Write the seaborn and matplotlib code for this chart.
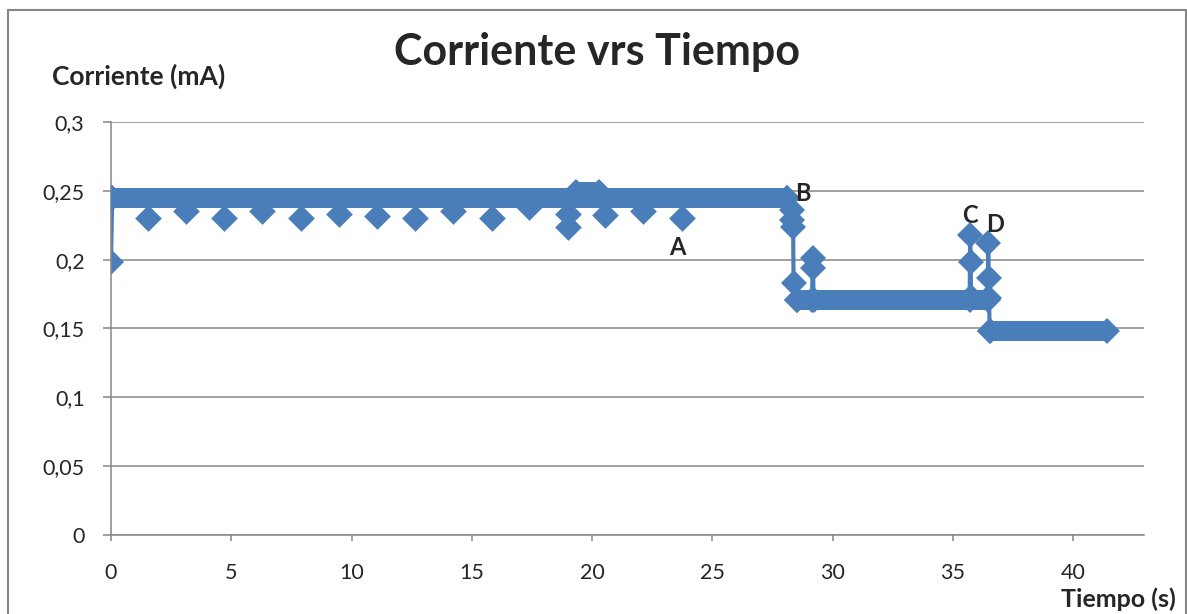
import pandas as pd
import matplotlib
matplotlib.use("Agg")
import matplotlib.pyplot as plt
import seaborn as sns
from matplotlib.patches import Rectangle

# tramos continuos (muchas lecturas seguidas a la misma corriente)
tramo_ini = [0.05, 19.35, 28.52, 36.53]
tramo_fin = [28.1, 20.3, 36.45, 41.4]
tramo_nivel = [0.2445, 0.249, 0.171, 0.1485]

# lecturas aisladas por debajo del primer tramo
t_caidas = [1.54, 3.12, 4.70, 6.28, 7.90, 9.48, 11.06, 12.64, 14.22, 15.84,
            17.38, 19.0, 19.0, 20.54, 22.12, 23.74]
i_caidas = [0.230, 0.235, 0.230, 0.235, 0.230, 0.233, 0.232, 0.230, 0.235, 0.230,
            0.238, 0.233, 0.224, 0.2325, 0.235, 0.230]

# transiciones (inicio, B, pico, C, D)
t_inicio = [0.0, 0.05]
i_inicio = [0.198, 0.2445]
t_b = [28.1, 28.3, 28.33, 28.36, 28.38, 28.52]
i_b = [0.2445, 0.236, 0.229, 0.224, 0.183, 0.171]
t_pico = [29.15, 29.17, 29.19, 29.21]
i_pico = [0.171, 0.201, 0.194, 0.171]
t_c = [35.7, 35.72, 35.74, 35.76]
i_c = [0.171, 0.218, 0.198, 0.173]
t_d = [36.45, 36.47, 36.49, 36.51, 36.53]
i_d = [0.172, 0.212, 0.187, 0.172, 0.1485]

etiquetas = ["A", "B", "C", "D"]
etq_t = [23.53, 28.77, 35.72, 36.76]
etq_i = [0.2085, 0.2484, 0.2324, 0.2252]

azul = "#4a7ebb"
gris = "#868686"

sns.set_style("white")
plt.rcParams["font.family"] = ["Lato", "DejaVu Sans"]

fig = plt.figure(figsize=(11.87, 6.14), dpi=100)
ax = fig.add_axes([0.0935, 0.1287, 0.8703, 0.6726])

ms = 13.6  # diamante de ~20 px

# transiciones con marcadores
tramos = [(t_inicio, i_inicio), (t_b, i_b), (t_pico, i_pico), (t_c, i_c), (t_d, i_d)]
for tt, ii in tramos:
    df = pd.DataFrame({"t": tt, "i": ii})
    sns.lineplot(data=df, x="t", y="i", sort=False, estimator=None, ax=ax,
                 color=azul, lw=3, marker="D", markersize=ms, markeredgewidth=0)

# tramos continuos
for s, e, v in zip(tramo_ini, tramo_fin, tramo_nivel):
    ax.plot([s, e], [v, v], color=azul, lw=14.4, solid_capstyle="butt",
            marker="D", markersize=ms, markeredgewidth=0, zorder=3)

# lecturas aisladas
sns.scatterplot(x=t_caidas, y=i_caidas, ax=ax, color=azul, marker="D", s=ms ** 2,
                linewidth=0, zorder=3)

for txt, x, y in zip(etiquetas, etq_t, etq_i):
    ax.text(x, y, txt, fontsize=17, fontweight="bold", ha="center", va="center")

ax.set_xlim(0, 42.95)
ax.set_ylim(0, 0.3)
ax.set_xticks(range(0, 41, 5))
ax.set_yticks([0, 0.05, 0.1, 0.15, 0.2, 0.25, 0.3])
ax.set_yticklabels(["0", "0,05", "0,1", "0,15", "0,2", "0,25", "0,3"])
ax.set_xlabel("")
ax.set_ylabel("")
ax.grid(axis="y", color=gris, lw=1.1)
ax.set_axisbelow(True)
for lado in ["top", "right"]:
    ax.spines[lado].set_visible(False)
for lado in ["left", "bottom"]:
    ax.spines[lado].set_color(gris)
    ax.spines[lado].set_linewidth(1.1)
ax.tick_params(axis="y", direction="out", length=6, width=1.1, color=gris,
               labelsize=15.5, pad=13, left=True)
ax.tick_params(axis="x", direction="out", length=4.5, width=1.1, color=gris,
               labelsize=15.5, pad=16, bottom=True)

fig.text(0.503, 0.894, "Corriente vrs Tiempo", fontsize=31, fontweight="bold",
         ha="center", va="baseline")
fig.text(0.117, 0.8616, "Corriente (mA)", fontsize=19, fontweight="bold",
         ha="center", va="baseline")
fig.text(0.942, 0.0114, "Tiempo (s)", fontsize=18, fontweight="bold",
         ha="center", va="baseline")

fig.patches.append(Rectangle((8 / 1187, -0.05), 1178 / 1187, 1.05 - 9.5 / 614,
                             transform=fig.transFigure, fill=False,
                             edgecolor=gris, lw=1.5))

fig.savefig("out.png", dpi=100)
